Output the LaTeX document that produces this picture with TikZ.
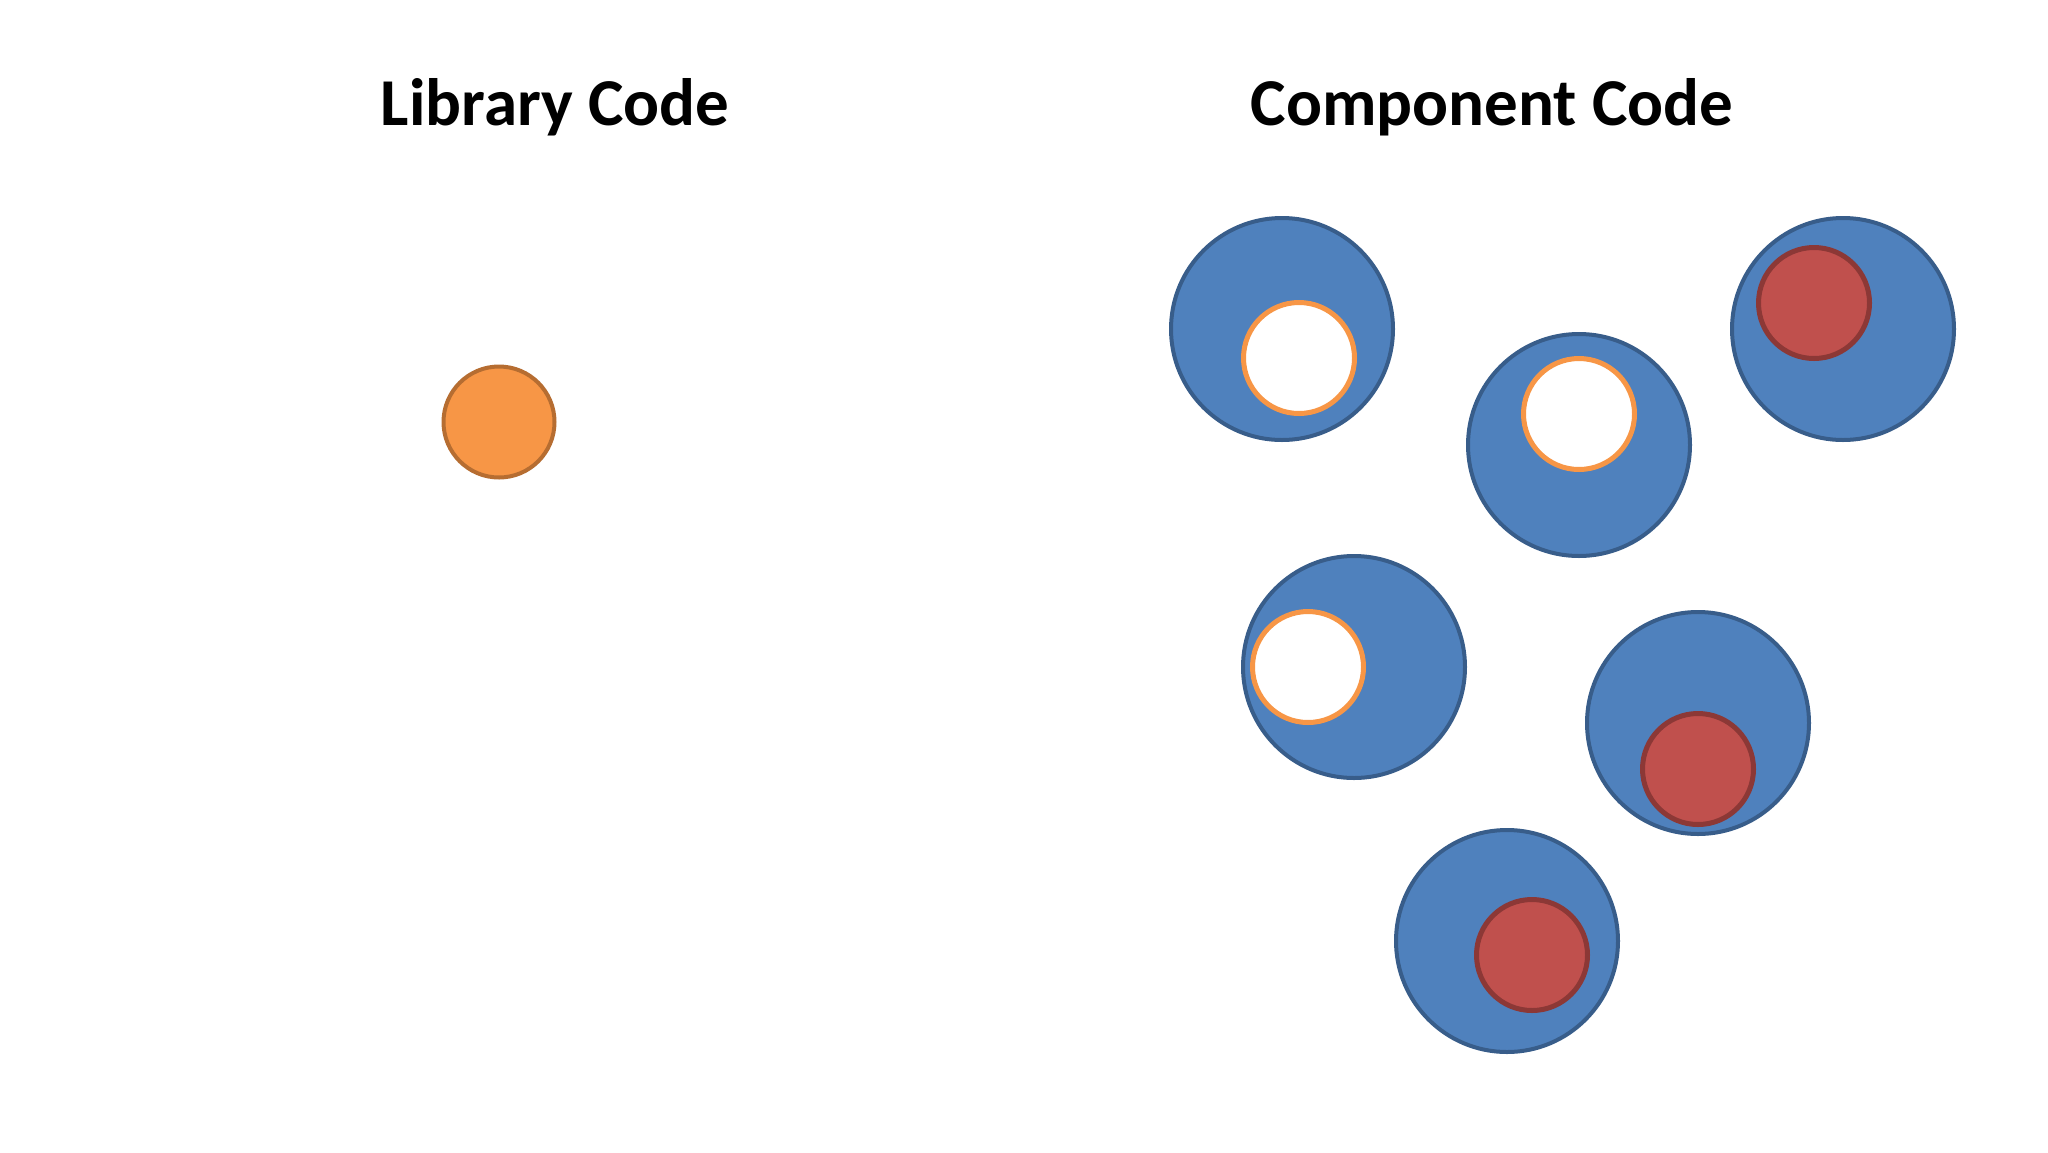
\documentclass[tikz,border=0pt]{standalone}
\usepackage{fontspec}
\setmainfont{Carlito}
\usetikzlibrary{positioning}

\definecolor{ballblue}{HTML}{4F81BD}
\definecolor{ballblueline}{HTML}{385D8A}
\definecolor{libfill}{HTML}{F79646}
\definecolor{libline}{HTML}{B66D31}
\definecolor{usedfill}{HTML}{C0504D}
\definecolor{usedline}{HTML}{8C3836}

\begin{document}
\begin{tikzpicture}[
    x=1pt, y=-1pt,
    title/.style={anchor=base, font=\fontsize{67}{74}\selectfont\bfseries, inner sep=0pt},
    component/.style={draw=ballblueline, fill=ballblue, circle, line width=4pt, minimum size=222pt, inner sep=0pt},
    libpart/.style={draw=libline, fill=libfill, circle, line width=4pt, minimum size=111pt, inner sep=0pt},
    emptyslot/.style={draw=libfill, fill=white, circle, line width=5pt, minimum size=111pt, inner sep=0pt},
    ownpart/.style={draw=usedline, fill=usedfill, circle, line width=5pt, minimum size=111pt, inner sep=0pt}
]

% --- Canvas ---
\useasboundingbox[fill=white] (0, 0) rectangle (2048, 1152);

% --- Titles ---
\node[title] (libtitle)  at (555, 125)  {Library Code};
\node[title] (comptitle) at (1492, 125) {Component Code};

% --- Library ---
\node[libpart] (lib) at (499, 422) {};

% --- Components ---
\node[component] (compA) at (1282, 329) {};
\node[component] (compB) at (1579, 445) {};
\node[component] (compC) at (1843, 329) {};
\node[component] (compD) at (1354, 667) {};
\node[component] (compE) at (1698, 723) {};
\node[component] (compF) at (1507, 941) {};

% --- Parts inside components ---
\node[emptyslot] (slotA) at (1299, 358) {};
\node[emptyslot] (slotB) at (1579, 414) {};
\node[ownpart]   (partC) at (1814, 303) {};
\node[emptyslot] (slotD) at (1308, 667) {};
\node[ownpart]   (partE) at (1698, 769) {};
\node[ownpart]   (partF) at (1532, 955) {};

\end{tikzpicture}
\end{document}
